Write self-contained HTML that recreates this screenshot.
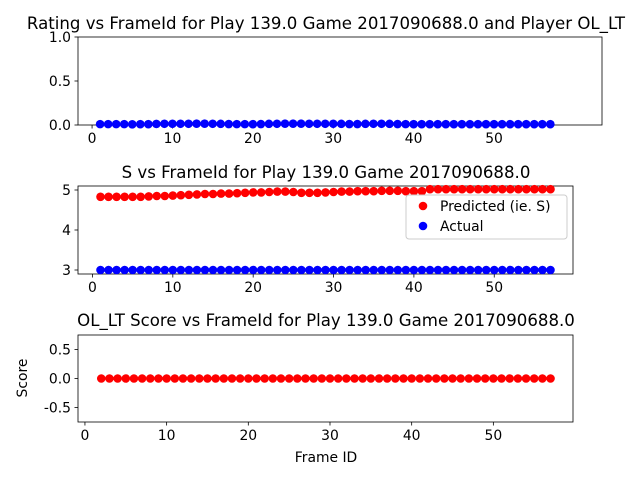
<!DOCTYPE html>
<html><head><meta charset="utf-8"><style>
body{margin:0;background:#fff}
svg{display:block;font-family:"DejaVu Sans","Liberation Sans",sans-serif}
</style></head><body>
<svg id="c" width="640" height="480"></svg>
<script>
const frames=[];for(let i=1;i<=57;i++)frames.push(i);
const ratingVals=[0.01,0.01,0.01,0.01,0.008,0.009,0.009,0.012,0.014,0.014,0.014,0.014,0.015,0.015,0.014,0.013,0.011,0.01,0.01,0.009,0.011,0.013,0.014,0.015,0.015,0.015,0.014,0.014,0.014,0.014,0.013,0.011,0.011,0.013,0.014,0.014,0.013,0.011,0.01,0.009,0.009,0.009,0.009,0.009,0.009,0.009,0.009,0.009,0.009,0.009,0.009,0.009,0.009,0.009,0.009,0.009,0.009];
const predVals=[4.83,4.83,4.83,4.83,4.83,4.83,4.84,4.85,4.85,4.86,4.87,4.88,4.89,4.9,4.9,4.91,4.91,4.92,4.93,4.94,4.94,4.95,4.96,4.96,4.95,4.93,4.93,4.93,4.94,4.95,4.96,4.96,4.97,4.97,4.97,4.98,4.98,4.98,4.97,4.97,4.97,5.02,5.02,5.02,5.02,5.02,5.02,5.02,5.02,5.02,5.02,5.02,5.02,5.02,5.02,5.02,5.02];
const actualVals=frames.map(()=>3.0);
const scoreFrames=frames.slice(1);
const scoreVals=scoreFrames.map(()=>0.0);
const xTicks=[0,10,20,30,40,50];
const svg=document.getElementById('c');const NS='http://www.w3.org/2000/svg';
const TF=13.9;
function el(t,a,p){const e=document.createElementNS(NS,t);for(const k in a)e.setAttribute(k,a[k]);(p||svg).appendChild(e);return e;}
function txt(s,a){const e=el('text',a);e.textContent=s;return e;}
function axes(name,L,R,T,B,x0,x1,y0,y1,yTicks,yFmt){
 const sx=v=>L+(v-x0)/(x1-x0)*(R-L), sy=v=>B-(v-y0)/(y1-y0)*(B-T);
 const g=el('g',{});
 el('rect',{x:L,y:T,width:R-L,height:B-T,fill:'none',stroke:'#000','stroke-width':0.8},g);
 xTicks.forEach(t=>{const x=sx(t);el('line',{x1:x,x2:x,y1:B,y2:B+3.5,stroke:'#000','stroke-width':0.8},g);
  const e=txt(String(t),{x:x,y:B+18,'text-anchor':'middle','font-size':TF});});
 yTicks.forEach(t=>{const y=sy(t);el('line',{x1:L-3.5,x2:L,y1:y,y2:y,stroke:'#000','stroke-width':0.8},g);
  const e=txt(yFmt(t),{x:L-7,y:y+5,'text-anchor':'end','font-size':TF});});
 return {sx,sy};
}
function dots(ax,xs,ys,col,name){xs.forEach((f,i)=>{const c=el('circle',{cx:ax.sx(f),cy:ax.sy(ys[i]),r:4.3,fill:col});
 });}
// top
let t=txt('Rating vs FrameId for Play 139.0 Game 2017090688.0 and Player OL_LT',{x:326,y:29,'text-anchor':'middle','font-size':16.6});

const a1=axes('rating',78,602,37,125,-1.75,63.43,0,1,[0,0.5,1],v=>v.toFixed(1));
dots(a1,frames,ratingVals,'#0000ff','rating-point');
// middle
t=txt('S vs FrameId for Play 139.0 Game 2017090688.0',{x:326,y:178,'text-anchor':'middle','font-size':16.6});

const a2=axes('speed',78,573,186,274,-1.8,59.8,2.9,5.1,[3,4,5],v=>String(v));
dots(a2,frames,predVals,'#ff0000','predicted-point');
dots(a2,frames,actualVals,'#0000ff','actual-point');
const lg=el('g',{});
el('rect',{x:406,y:195,width:161,height:44,rx:3,fill:'#fff','fill-opacity':0.8,stroke:'#ccc'},lg);
el('circle',{cx:423,cy:206,r:4.3,fill:'#ff0000'},lg);el('circle',{cx:423,cy:226,r:4.3,fill:'#0000ff'},lg);
t=txt('Predicted (ie. S)',{x:440,y:211,'font-size':TF});
t=txt('Actual',{x:440,y:231,'font-size':TF});
// bottom
t=txt('OL_LT Score vs FrameId for Play 139.0 Game 2017090688.0',{x:326,y:326,'text-anchor':'middle','font-size':16.6});

const a3=axes('score',78,573,335,422,-0.85,59.75,-0.75,0.75,[-0.5,0,0.5],v=>v.toFixed(1));
dots(a3,scoreFrames,scoreVals,'#ff0000','score-point');
t=txt('Frame ID',{x:326,y:462,'text-anchor':'middle','font-size':TF});
t=txt('Score',{x:27,y:378,'text-anchor':'middle','font-size':TF,transform:'rotate(-90 27 378)'});
</script>
</body></html>
